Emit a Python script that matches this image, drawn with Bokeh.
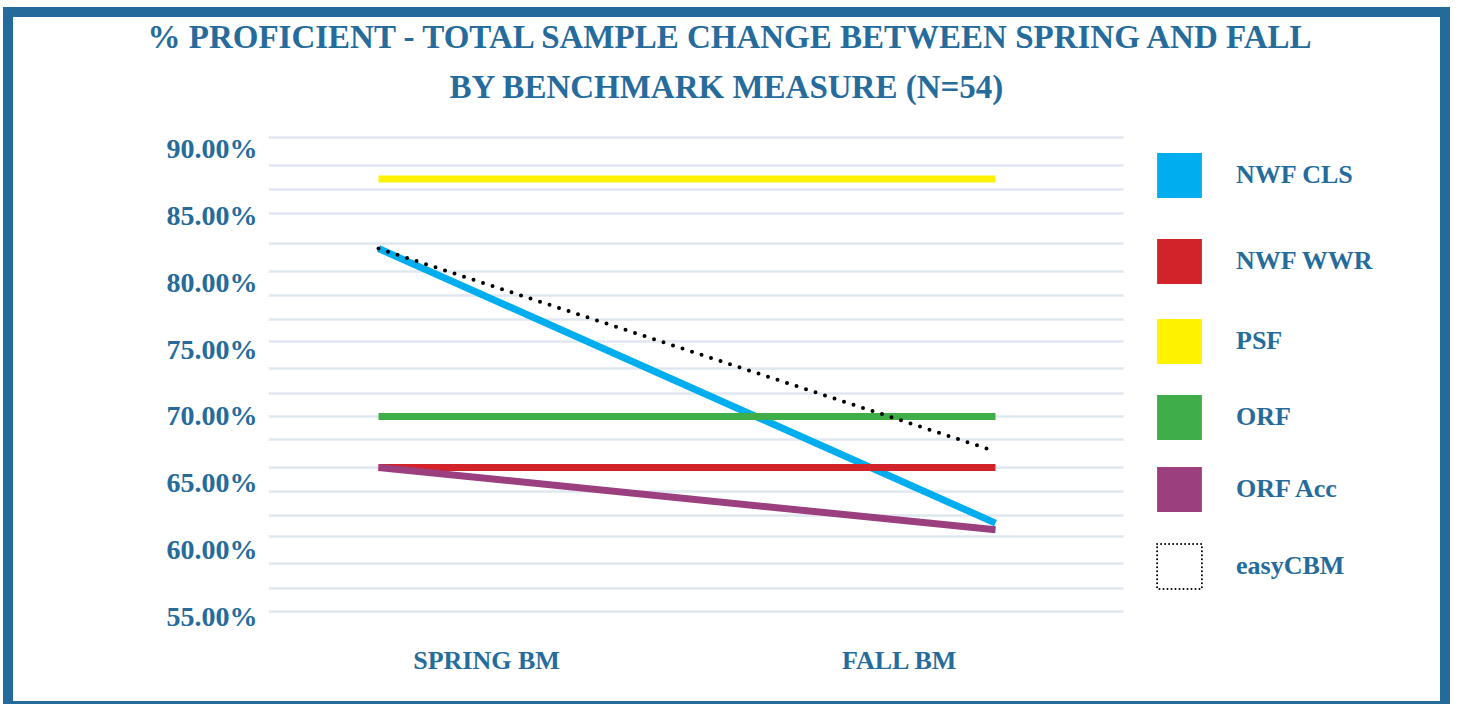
from bokeh.plotting import figure
from bokeh.models import FixedTicker, PrintfTickFormatter, Title, Legend, LegendItem, Range1d
from bokeh.layouts import column
from bokeh.embed import file_html
from bokeh.resources import INLINE

# ---- data ----
periods = ["SPRING BM", "FALL BM"]
period_x = [0, 1]
series_names = ["NWF CLS", "NWF WWR", "PSF", "ORF", "ORF Acc", "easyCBM"]
nwf_cls = [82.5, 62.0]
nwf_wwr = [66.15, 66.15]
psf = [87.7, 87.7]
orf = [69.96, 69.96]
orf_acc = [66.15, 61.5]
easycbm = [82.5, 67.35]
y_ticks = [55, 60, 65, 70, 75, 80, 85, 90]

# ---- style ----
TXT = "#256b9c"
FONT = "Liberation Serif, serif"
colors = ["#00aeef", "#d2232a", "#fff200", "#3fae49", "#9b3f7f", "black"]
grid_vals = [90.80, 88.71, 86.91, 85.12, 82.88, 80.79, 79.00, 77.21, 75.56, 73.55,
             71.68, 69.96, 68.24, 66.15, 64.36, 62.57, 61.00, 58.98, 57.12, 55.40]
label_x = [0.175, 0.845]
X0, X1, GRID_X1 = -0.1783, 1.7212, 1.2075
legend_tops = [28, 114, 194, 270, 342, 419]   # px below frame top (swatch top)
SW = 56   # legend glyph box; area swatch drawn at ~80%
PAD = 6

p = figure(width=1427, height=684, x_range=Range1d(X0, X1),
           y_range=Range1d(53.98, 91.69), output_backend="svg", toolbar_location=None,
           min_border_left=255, min_border_right=0, min_border_top=108, min_border_bottom=71)
p.outline_line_color = None
p.background_fill_color = "white"
p.border_fill_color = "white"

p.add_layout(Title(text="BY BENCHMARK MEASURE (N=54)", align="left", offset=181,
                   text_font=FONT, text_font_size="33px", text_font_style="bold",
                   text_color=TXT, standoff=42), "above")
p.add_layout(Title(text="% PROFICIENT - TOTAL SAMPLE CHANGE BETWEEN SPRING AND FALL", align="left",
                   offset=-121, text_font=FONT, text_font_size="33px", text_font_style="bold",
                   text_color=TXT, standoff=-19), "above")

p.xgrid.visible = False
p.ygrid.ticker = FixedTicker(ticks=grid_vals)
p.ygrid.cross_bounds = (X0, GRID_X1)
p.ygrid.grid_line_color = "#dfe7f0"
p.ygrid.grid_line_width = 2.5

for ax in (p.xaxis, p.yaxis):
    ax.axis_line_color = None
    ax.major_tick_line_color = None
    ax.minor_tick_line_color = None
    ax.major_label_text_font = FONT
    ax.major_label_text_font_style = "bold"
    ax.major_label_text_color = TXT
    ax.major_label_text_font_size = "28px"

p.yaxis.ticker = FixedTicker(ticks=y_ticks)
p.yaxis.formatter = PrintfTickFormatter(format="%.2f%%")
p.yaxis.major_label_standoff = 5
p.xaxis.ticker = FixedTicker(ticks=label_x)
p.xaxis.major_label_overrides = {label_x[i]: periods[i] for i in range(2)}
p.xaxis.major_label_standoff = 9
p.xaxis.major_label_text_font_size = "26px"

# lines
p.line(period_x, nwf_cls, line_width=7, color=colors[0])
p.line(period_x, orf, line_width=7, color=colors[3])
p.line(period_x, nwf_wwr, line_width=7, color=colors[1])
p.line(period_x, psf, line_width=7, color=colors[2])
p.line(period_x, orf_acc, line_width=7, color=colors[4])
p.line(period_x, easycbm, line_width=4, color="black", line_dash="0 10", line_cap="round")

# legend swatches (one legend per entry to match spacing)
nan = float("nan")
frame_h = 684 - 108 - 71
for i, name in enumerate(series_names):
    if name == "easyCBM":
        r = p.quad(left=[nan], right=[nan], bottom=[nan], top=[nan], fill_color=None,
                   line_color="black", line_width=2, line_dash="0 4", line_cap="round")
    else:
        r = p.quad(left=[nan], right=[nan], bottom=[nan], top=[nan], fill_color=colors[i],
                   line_color=None)
    lg = Legend(items=[LegendItem(label=name, renderers=[r])],
                location=(889 - PAD, frame_h - (legend_tops[i] - PAD) - SW),
                glyph_width=SW, glyph_height=SW, label_standoff=35 - PAD, padding=0, margin=0,
                border_line_color=None, background_fill_alpha=0, label_text_font=FONT,
                label_text_font_style="bold", label_text_font_size="26px", label_text_color=TXT)
    p.add_layout(lg)

layout = column(p, margin=(7, 0, 0, 3),
                styles={"border": "10px solid #246b9c", "border-bottom-width": "3px",
                        "background-color": "white"})
open("out.html", "w").write(file_html(layout, INLINE))
